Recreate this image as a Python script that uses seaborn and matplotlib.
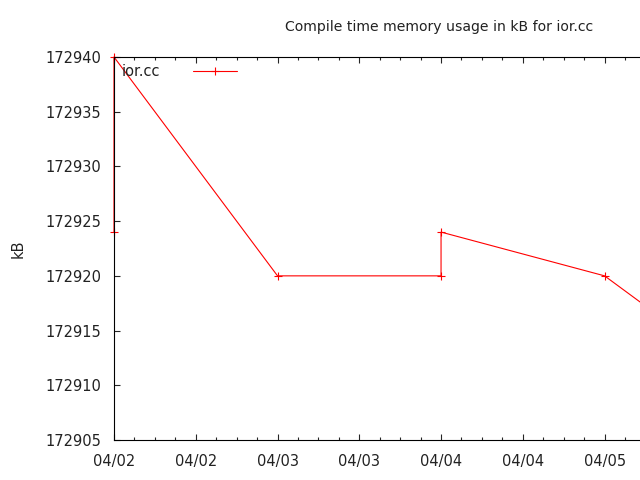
import pandas as pd
import seaborn as sns
import matplotlib
matplotlib.use('Agg')
import matplotlib.pyplot as plt
import matplotlib.dates as mdates

# compile time memory samples (kB) for ior.cc
times = ['2009-04-02 00:00', '2009-04-02 00:00', '2009-04-03 00:00',
         '2009-04-04 00:00', '2009-04-04 00:00', '2009-04-05 00:00',
         '2009-04-06 00:00']
kb = [172924, 172940, 172920, 172920, 172924, 172920, 172909]
yticks = [172905, 172910, 172915, 172920, 172925, 172930, 172935, 172940]

df = pd.DataFrame({'time': pd.to_datetime(times), 'kB': kb})

sns.set_style('white')
plt.rcParams['font.family'] = ['DejaVu Sans']
plt.rcParams['font.size'] = 10.5

fig = plt.figure(figsize=(6.4, 4.8), dpi=100)
ax = fig.add_axes([114 / 640, 40 / 480, 526 / 640, 383 / 480])

sns.lineplot(data=df, x='time', y='kB', sort=False, estimator=None,
             color='red', linewidth=0.8, marker='+', markersize=6,
             markeredgewidth=0.8, markeredgecolor='red', markerfacecolor='red',
             label='ior.cc', ax=ax, clip_on=False, zorder=2)

ax.set_xlim(pd.Timestamp('2009-04-02 00:00'), pd.Timestamp('2009-04-05 05:12'))
ax.set_ylim(172905, 172940)
ax.set_yticks(yticks)
ax.set_yticklabels([str(v) for v in yticks])
ax.xaxis.set_major_locator(mdates.HourLocator(byhour=[0, 12]))
ax.xaxis.set_minor_locator(mdates.HourLocator(interval=3))
ax.xaxis.set_major_formatter(mdates.DateFormatter('%m/%d'))

for s in ['left', 'bottom', 'top']:
    ax.spines[s].set_visible(True)
    ax.spines[s].set_color('black')
    ax.spines[s].set_linewidth(0.8)
    ax.spines[s].set_zorder(4)
ax.spines['right'].set_visible(False)

ax.tick_params(axis='x', which='major', direction='in', length=4.5, width=0.8,
               top=True, bottom=True, pad=10, labelcolor='#222222')
ax.tick_params(axis='x', which='minor', direction='in', length=2.2, width=0.8,
               top=True, bottom=True)
ax.tick_params(axis='y', which='major', direction='in', length=4.5, width=0.8,
               left=True, pad=9, labelcolor='#222222')

ax.set_xlabel('')
ax.set_ylabel('kB', labelpad=14, color='#222222')
ax.grid(False)

ax.legend(loc='upper left', bbox_to_anchor=(0.0, 1.0), markerfirst=False,
          frameon=False, handlelength=3.0, handletextpad=2.3,
          borderaxespad=0.3, borderpad=0.2)
for t in ax.get_legend().get_texts():
    t.set_color('#222222')

fig.text(439 / 640, 1 - 27 / 480, 'Compile time memory usage in kB for ior.cc',
         ha='center', va='center', color='#222222', fontsize=10.1)

fig.savefig('out.png', dpi=100)
